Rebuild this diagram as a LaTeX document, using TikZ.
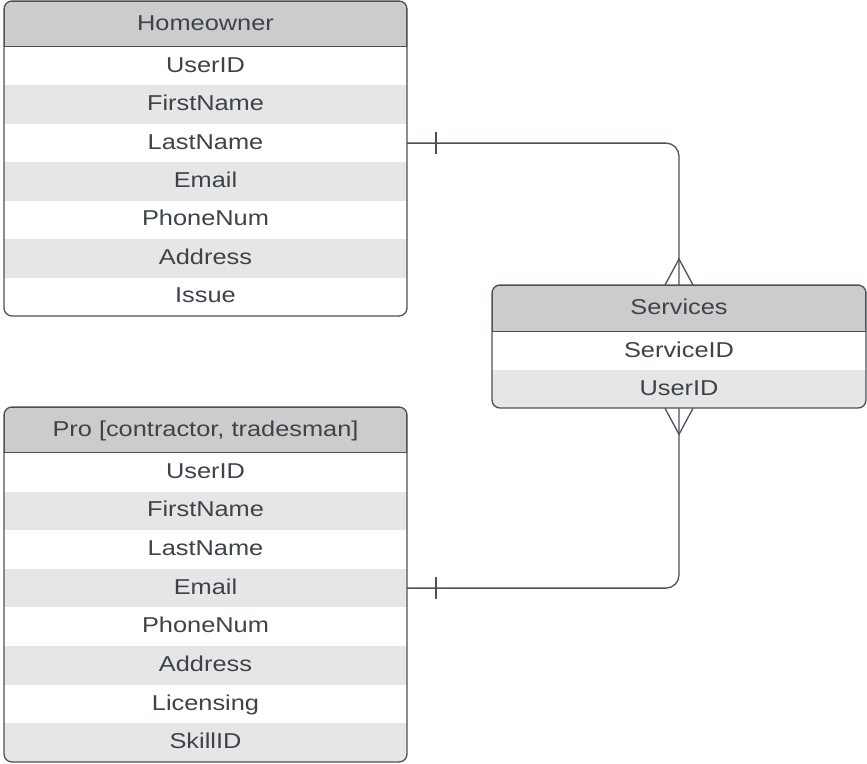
\documentclass[tikz,border=0pt]{standalone}
\usepackage{fontspec}
\setmainfont{Liberation Sans}[FakeStretch=1.18]
\usetikzlibrary{calc}

\definecolor{ink}{HTML}{3D434B}
\definecolor{edge}{HTML}{4B5058}
\definecolor{headfill}{HTML}{CCCCCC}
\definecolor{stripe}{HTML}{E6E6E6}

\tikzset{
  head/.style={fill=headfill, draw=edge, minimum height=46pt},
  plainrow/.style={fill=white, minimum height=38.6pt},
  stripedrow/.style={fill=stripe, minimum height=38.6pt},
  frame/.style={draw=edge, rounded corners=8pt},
  link/.style={draw=edge, rounded corners=13pt}
}

\begin{document}
\begin{tikzpicture}[x=1pt, y=-1pt, line width=1.3pt,
    every node/.style={font=\fontsize{21.5}{25}\selectfont, text=ink, inner sep=0pt,
      outer sep=0pt, text height=15.5pt, text depth=3.5pt}]
  \useasboundingbox (0,0) rectangle (867,763);

  % Homeowner
  \begin{scope}
    \clip[rounded corners=8pt] (4,1) rectangle (407,316);
    \node[head, minimum width=403pt] at (205.5, 24) (home) {Homeowner};
    \node[plainrow, minimum width=403pt] at (205.5, 66.2) (homeUser) {UserID};
    \node[stripedrow, minimum width=403pt] at (205.5, 104.6) (homeFirst) {FirstName};
    \node[plainrow, minimum width=403pt] at (205.5, 143.1) (homeLast) {LastName};
    \node[stripedrow, minimum width=403pt] at (205.5, 181.5) (homeEmail) {Email};
    \node[plainrow, minimum width=403pt] at (205.5, 219.9) (homePhone) {PhoneNum};
    \node[stripedrow, minimum width=403pt] at (205.5, 258.4) (homeAddr) {Address};
    \node[plainrow, minimum width=403pt] at (205.5, 296.8) (homeIssue) {Issue};
  \end{scope}
  \draw[frame] (4,1) rectangle (407,316);

  % Services
  \begin{scope}
    \clip[rounded corners=8pt] (492,285) rectangle (866,408);
    \node[head, minimum width=374pt, minimum height=47pt] at (679, 308.5) (svc) {Services};
    \node[plainrow, minimum width=374pt] at (679, 351) (svcService) {ServiceID};
    \node[stripedrow, minimum width=374pt] at (679, 389) (svcUser) {UserID};
  \end{scope}
  \draw[frame] (492,285) rectangle (866,408);

  % Pro
  \begin{scope}
    \clip[rounded corners=8pt] (4,407) rectangle (407,762);
    \node[head, minimum width=403pt] at (205.5, 430) (pro) {Pro [contractor, tradesman]};
    \node[plainrow, minimum width=403pt] at (205.5, 472.3) (proUser) {UserID};
    \node[stripedrow, minimum width=403pt] at (205.5, 510.9) (proFirst) {FirstName};
    \node[plainrow, minimum width=403pt] at (205.5, 549.5) (proLast) {LastName};
    \node[stripedrow, minimum width=403pt] at (205.5, 588.1) (proEmail) {Email};
    \node[plainrow, minimum width=403pt] at (205.5, 626.8) (proPhone) {PhoneNum};
    \node[stripedrow, minimum width=403pt] at (205.5, 665.4) (proAddr) {Address};
    \node[plainrow, minimum width=403pt] at (205.5, 704) (proLic) {Licensing};
    \node[stripedrow, minimum width=403pt] at (205.5, 742.6) (proSkill) {SkillID};
  \end{scope}
  \draw[frame] (4,407) rectangle (407,762);

  % Edges
  \draw[link] (homeLast.east) -| (svc.north);
  \draw[link] (proEmail.east) -| (svcUser.south);

  % one side
  \draw[edge] ($(homeLast.east)+(29,-11)$) -- ($(homeLast.east)+(29,11)$);
  \draw[edge] ($(proEmail.east)+(29,-11)$) -- ($(proEmail.east)+(29,11)$);

  % many side
  \draw[edge] ($(svc.north)+(-14,0)$) -- ($(svc.north)+(0,-26)$) -- ($(svc.north)+(14,0)$);
  \draw[edge] ($(svcUser.south)+(-14,0)$) -- ($(svcUser.south)+(0,26)$) -- ($(svcUser.south)+(14,0)$);
\end{tikzpicture}
\end{document}
